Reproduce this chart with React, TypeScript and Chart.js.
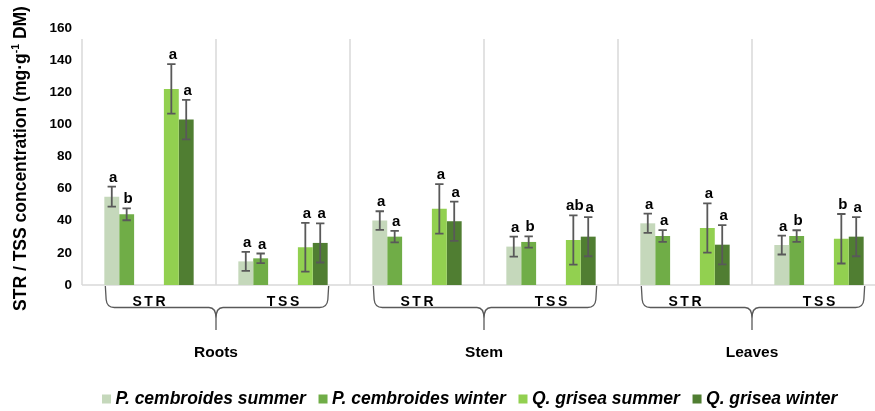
import React, { useEffect, useRef } from "react";
import { Chart, registerables } from "chart.js";

Chart.register(...registerables);

// ---- data ----
const categories = ["STR", "TSS", "STR", "TSS", "STR", "TSS"];
const organs = ["Roots", "Stem", "Leaves"];
const seriesNames = [
  "P. cembroides summer",
  "P. cembroides winter",
  "Q. grisea summer",
  "Q. grisea winter",
];
const seriesColors = ["#c5d8bb", "#70ad47", "#92d050", "#507e32"];

const pcSummer = [55.0, 14.7, 40.1, 23.9, 38.4, 24.9];
const pcWinter = [44.0, 16.6, 30.1, 26.8, 30.5, 30.5];
const qgSummer = [122.1, 23.5, 47.4, 28.0, 35.5, 28.8];
const qgWinter = [103.0, 26.2, 39.7, 30.1, 25.1, 30.1];

const pcSummerErr = [6.2, 5.9, 5.8, 6.2, 6.0, 5.9];
const pcWinterErr = [3.7, 3.0, 3.6, 3.5, 3.7, 3.6];
const qgSummerErr = [15.4, 15.2, 15.4, 15.3, 15.3, 15.4];
const qgWinterErr = [12.3, 12.2, 12.2, 12.2, 12.2, 12.2];

const pcSummerSig = ["a", "a", "a", "a", "a", "a"];
const pcWinterSig = ["b", "a", "a", "b", "a", "b"];
const qgSummerSig = ["a", "a", "a", "ab", "a", "b"];
const qgWinterSig = ["a", "a", "a", "a", "a", "a"];

const yTicks = [0, 20, 40, 60, 80, 100, 120, 140, 160];

const FONT = "'Liberation Sans', Arial, sans-serif";

// dataset index -> series index (2 and 3 are empty spacer datasets)
const realSets = [
  { ds: 0, values: pcSummer, err: pcSummerErr, sig: pcSummerSig },
  { ds: 1, values: pcWinter, err: pcWinterErr, sig: pcWinterSig },
  { ds: 4, values: qgSummer, err: qgSummerErr, sig: qgSummerSig },
  { ds: 5, values: qgWinter, err: qgWinterErr, sig: qgWinterSig },
];

const decorPlugin = {
  id: "decor",
  beforeDatasetsDraw(chart: any) {
    const { ctx, chartArea, scales } = chart;
    const x = scales.x;
    const lineTop = chartArea.top + 11;
    const half = (x.getPixelForValue(1) - x.getPixelForValue(0)) / 2;
    ctx.save();
    ctx.strokeStyle = "#d9d9d9";
    ctx.lineWidth = 1.5;
    // left axis line + category separators
    for (let i = 0; i <= categories.length; i++) {
      const px =
        i < categories.length
          ? x.getPixelForValue(i) - half
          : x.getPixelForValue(i - 1) + half;
      ctx.beginPath();
      ctx.moveTo(px, lineTop);
      ctx.lineTo(px, chartArea.bottom);
      ctx.stroke();
    }
    // baseline
    ctx.beginPath();
    ctx.moveTo(chartArea.left, chartArea.bottom);
    ctx.lineTo(chartArea.right, chartArea.bottom);
    ctx.stroke();
    ctx.restore();
  },
  afterDatasetsDraw(chart: any) {
    const { ctx, scales } = chart;
    const y = scales.y;
    ctx.save();
    for (const s of realSets) {
      const meta = chart.getDatasetMeta(s.ds);
      meta.data.forEach((bar: any, i: number) => {
        const v = s.values[i];
        const e = s.err[i];
        const top = y.getPixelForValue(v + e);
        const bot = y.getPixelForValue(v - e);
        const cx = bar.x;
        ctx.strokeStyle = "#595959";
        ctx.lineWidth = 1.8;
        ctx.beginPath();
        ctx.moveTo(cx, top);
        ctx.lineTo(cx, bot);
        ctx.moveTo(cx - 4.2, top);
        ctx.lineTo(cx + 4.2, top);
        ctx.moveTo(cx - 4.2, bot);
        ctx.lineTo(cx + 4.2, bot);
        ctx.stroke();
        ctx.fillStyle = "#000";
        ctx.font = `bold 15px ${FONT}`;
        ctx.textAlign = "center";
        ctx.textBaseline = "alphabetic";
        ctx.fillText(s.sig[i], cx + 1.5, top - 5);
      });
    }
    ctx.restore();
  },
  afterDraw(chart: any) {
    const { ctx, chartArea, scales } = chart;
    const x = scales.x;
    const half = (x.getPixelForValue(1) - x.getPixelForValue(0)) / 2;
    ctx.save();
    // category labels with letter spacing
    ctx.fillStyle = "#000";
    ctx.font = `bold 14px ${FONT}`;
    ctx.textBaseline = "middle";
    ctx.textAlign = "left";
    const spacing = 2.6;
    categories.forEach((c, i) => {
      const cx = x.getPixelForValue(i);
      const chars = c.split("");
      const widths = chars.map((ch) => ctx.measureText(ch).width);
      const total = widths.reduce((a, b) => a + b, 0) + spacing * (chars.length - 1);
      let px = cx - total / 2;
      chars.forEach((ch, k) => {
        ctx.fillText(ch, px, chartArea.bottom + 17);
        px += widths[k] + spacing;
      });
    });
    // braces
    const m0 = chart.getDatasetMeta(0);
    const m5 = chart.getDatasetMeta(5);
    ctx.strokeStyle = "#595959";
    ctx.lineWidth = 1.3;
    organs.forEach((o, g) => {
      const b0 = m0.data[2 * g];
      const b1 = m5.data[2 * g + 1];
      const L = b0.x - b0.width / 2 + 1;
      const R = b1.x + b1.width / 2 + 1;
      const M = x.getPixelForValue(2 * g) + half;
      const t = chartArea.bottom + 1;
      const h = chartArea.bottom + 22.5;
      const tip = chartArea.bottom + 45;
      ctx.beginPath();
      ctx.moveTo(L, t);
      ctx.lineTo(L + 0.8, h - 8);
      ctx.quadraticCurveTo(L + 1.5, h, L + 9, h);
      ctx.lineTo(M - 7, h);
      ctx.quadraticCurveTo(M, h, M, h + 11);
      ctx.lineTo(M, tip);
      ctx.moveTo(M, h + 11);
      ctx.quadraticCurveTo(M, h, M + 7, h);
      ctx.lineTo(R - 9, h);
      ctx.quadraticCurveTo(R - 1.5, h, R - 0.8, h - 8);
      ctx.lineTo(R, t);
      ctx.stroke();
      // organ label
      ctx.fillStyle = "#000";
      ctx.font = `bold 15.5px ${FONT}`;
      ctx.textAlign = "center";
      ctx.textBaseline = "middle";
      ctx.fillText(o, M, chartArea.bottom + 68);
    });
    // y axis title with superscript
    ctx.save();
    ctx.translate(21, (chartArea.top + chartArea.bottom) / 2 + 2);
    ctx.rotate(-Math.PI / 2);
    ctx.fillStyle = "#000";
    ctx.textBaseline = "middle";
    ctx.textAlign = "left";
    const big = `bold 17.5px ${FONT}`;
    const small = `bold 10.5px ${FONT}`;
    const p1 = "STR / TSS concentration (mg·g";
    const p2 = "-1";
    const p3 = " DM)";
    ctx.font = big;
    const w1 = ctx.measureText(p1).width;
    const w3 = ctx.measureText(p3).width;
    ctx.font = small;
    const w2 = ctx.measureText(p2).width;
    let tx = -(w1 + w2 + w3) / 2;
    ctx.font = big;
    ctx.fillText(p1, tx, 0);
    tx += w1;
    ctx.font = small;
    ctx.fillText(p2, tx, -5);
    tx += w2;
    ctx.font = big;
    ctx.fillText(p3, tx, 0);
    ctx.restore();
    // legend
    ctx.font = `italic bold 17.5px ${FONT}`;
    ctx.textAlign = "left";
    ctx.textBaseline = "middle";
    let lx = chartArea.left + 20;
    const ly = chartArea.bottom + 114;
    seriesNames.forEach((n, i) => {
      ctx.fillStyle = seriesColors[i];
      ctx.fillRect(lx, ly - 4.5, 9, 9);
      lx += 13.5;
      ctx.fillStyle = "#000";
      ctx.fillText(n, lx, ly);
      lx += ctx.measureText(n).width + 12.7;
    });
    ctx.restore();
  },
};

export default function App() {
  const ref = useRef<HTMLCanvasElement | null>(null);
  useEffect(() => {
    if (!ref.current) return;
    Chart.defaults.font.family = FONT;
    const mk = (label: string, data: (number | null)[], color: string) => ({
      label,
      data,
      backgroundColor: color,
      borderWidth: 0,
      categoryPercentage: 6 / 9,
      barPercentage: 1,
    });
    const empty = categories.map(() => null);
    const chart = new Chart(ref.current, {
      type: "bar",
      data: {
        labels: categories,
        datasets: [
          mk(seriesNames[0], pcSummer, seriesColors[0]),
          mk(seriesNames[1], pcWinter, seriesColors[1]),
          mk("", empty, "transparent"),
          mk("", empty, "transparent"),
          mk(seriesNames[2], qgSummer, seriesColors[2]),
          mk(seriesNames[3], qgWinter, seriesColors[3]),
        ] as any,
      },
      options: {
        animation: false,
        responsive: false,
        devicePixelRatio: 1,
        layout: { padding: { left: 0, right: 14, top: 28, bottom: 126 } },
        plugins: {
          legend: { display: false },
          tooltip: { enabled: false },
        },
        scales: {
          x: {
            display: true,
            grid: { display: false, drawTicks: false },
            border: { display: false },
            ticks: { display: false },
          },
          y: {
            min: 0,
            max: 160,
            afterBuildTicks: (scale: any) => {
              scale.ticks = yTicks.map((v) => ({ value: v }));
            },
            afterFit: (scale: any) => {
              scale.width = 82;
            },
            grid: { display: false, drawTicks: false },
            border: { display: false },
            ticks: {
              padding: 10,
              color: "#000",
              font: { family: FONT, size: 13.5, weight: "bold" },
            },
          },
        },
      },
      plugins: [decorPlugin],
    });
    return () => chart.destroy();
  }, []);
  return (
    <div
      style={{
        position: "fixed",
        left: 0,
        top: 0,
        width: 875,
        height: 411,
        overflow: "hidden",
        background: "#fff",
      }}
    >
      <canvas ref={ref} width={900} height={411} style={{ width: 900, height: 411, display: "block" }} />
    </div>
  );
}
